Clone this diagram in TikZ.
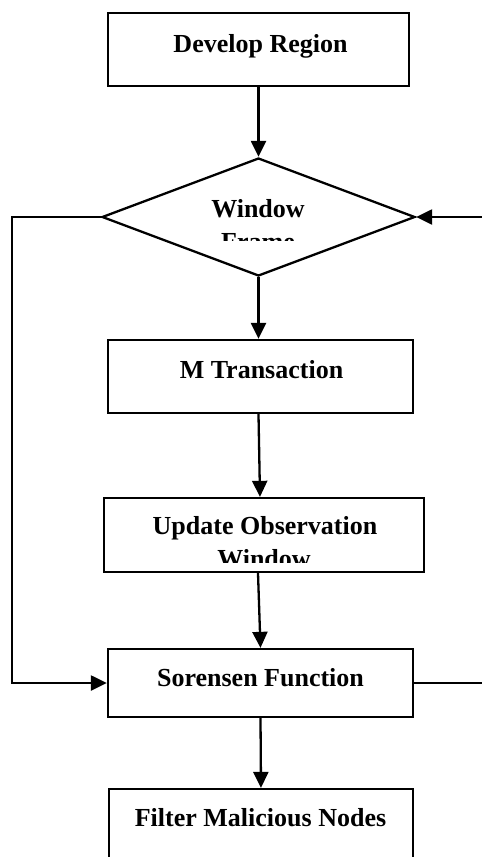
\documentclass[tikz,border=0pt]{standalone}
\usepackage{fontspec}
\setmainfont{Liberation Serif}
\usetikzlibrary{arrows.meta,shapes.geometric,calc}
\begin{document}
\begin{tikzpicture}[x=1pt,y=-1pt,
  box/.style={draw, line width=2.3pt, inner sep=0pt, rectangle, fill=white},
  lbl/.style={font=\fontsize{26}{33}\selectfont\bfseries, inner sep=0pt, anchor=base},
  flow/.style={line width=2.3pt, -{Triangle[length=16pt,width=15pt]}},
  link/.style={line width=2.3pt}]
\useasboundingbox (0,0) rectangle (482,857);
\fill[white] (0,0) rectangle (482,857);

% process boxes
\node[box, minimum width=301pt, minimum height=73pt] (dev) at (258.5,49.5) {};
\node[draw, diamond, line width=2.3pt, fill=white, inner sep=0pt, aspect=2.65,
      minimum width=313pt, minimum height=118pt] (dia) at (258.5,217) {};
\node[box, minimum width=305pt, minimum height=73pt] (mt) at (260.5,376.5) {};
\node[box, minimum width=320pt, minimum height=74pt] (upd) at (264,535) {};
\node[box, minimum width=305pt, minimum height=68pt] (sor) at (260.5,683) {};
\node[box, minimum width=304pt, minimum height=76pt] (fil) at (261,827) {};

% labels
\node[lbl] (devt) at (260.5,52) {Develop Region};
\node[lbl] (wint) at (258,217) {Window};
\begin{scope}
  \clip (150,225) rectangle (370,240);
  \node[lbl] (frmt) at (258,250) {Frame};
\end{scope}
\node[lbl] (mtt) at (261.5,378) {M Transaction};
\node[lbl] (updt) at (265,534) {Update Observation};
\begin{scope}
  \clip (150,545) rectangle (380,562);
  \node[lbl] (updw) at (264,567) {Window};
\end{scope}
\node[lbl] (sort) at (260.5,686) {Sorensen Function};
\node[lbl] (filt) at (260.5,826) {Filter Malicious Nodes};

% free ends of connectors
\coordinate (lt) at (12,217);
\coordinate (inR) at (482,217);
\coordinate (outR) at (482,683);

% connectors
\draw[flow] (dev.south) -- (dia.north);
\draw[flow] (dia.south) -- (dia.south |- mt.north);
\draw[flow] ([xshift=-2pt]mt.south) -- ([xshift=-4pt]upd.north);
\draw[flow] ([xshift=-6pt]upd.south) -- (sor.north);
\draw[flow] (sor.south) -- (fil.north);
\draw[flow] (dia.west) -- (dia.west -| lt) -- (lt |- sor.west) -- (sor.west);
\draw[flow] (dia.east -| inR) -- (dia.east);
\draw[link] (sor.east) -- (sor.east -| outR);
\end{tikzpicture}
\end{document}
